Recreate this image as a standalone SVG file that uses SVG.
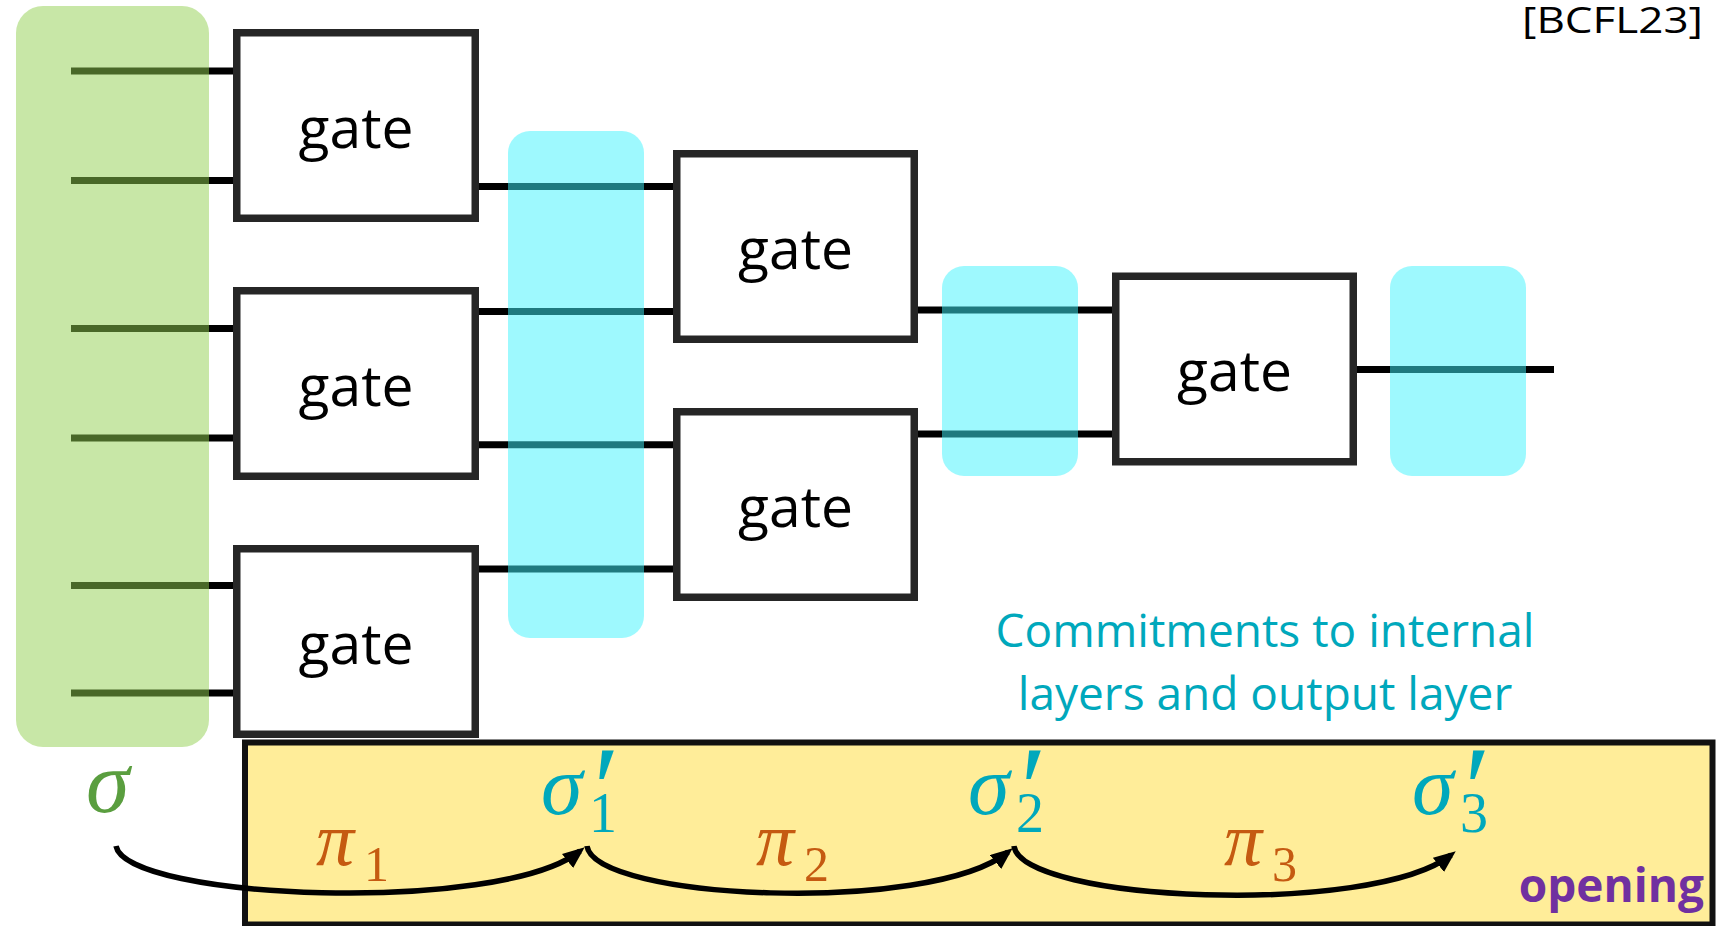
<svg xmlns="http://www.w3.org/2000/svg" width="1716" height="926" viewBox="0 0 1716 926">
<defs>
<style>
.gate rect{fill:#fff;stroke:#262626;stroke-width:7.5}
.gate text{font-family:"Open Sans","Noto Sans",sans-serif;font-size:57px;fill:#000;text-anchor:middle}
.wire{stroke:#000;stroke-width:7;fill:none}
.cyan{fill:#3EF4FE;fill-opacity:0.5}
.green{fill:#92D050;fill-opacity:0.5}
.lbl{font-family:"Open Sans","Noto Sans",sans-serif;font-size:46px;fill:#00A8BC;text-anchor:middle}
.m{font-family:"Liberation Serif","DejaVu Serif",serif;font-style:italic}
.sub{font-family:"Liberation Serif","DejaVu Serif",serif;font-style:normal}
.pr{font-family:"Liberation Serif","DejaVu Serif",serif;font-style:italic;font-size:120px}
.sg{fill:#5A9E3F}
.sc{fill:#00A8BC}
.po{fill:#C55A11}
.arc{stroke:#000;stroke-width:5.5;fill:none;marker-end:url(#ah)}
</style>
<marker id="ah" markerUnits="userSpaceOnUse" markerWidth="24" markerHeight="20" refX="16" refY="9" orient="auto">
<path d="M0,0 L22,9 L0,18 Z" fill="#000"/>
</marker>
</defs>

<rect x="0" y="0" width="1716" height="926" fill="#fff"/>

<g id="opening-box">
<rect x="245" y="742.5" width="1467.5" height="182" fill="#FFED99" stroke="#111" stroke-width="6"/>
<text x="1704" y="902" font-family="'Open Sans','Noto Sans',sans-serif" font-weight="bold" font-size="46" fill="#7030A0" text-anchor="end">opening</text>
</g>

<g id="connectors">
<line class="wire" x1="71" y1="71" x2="236" y2="71"/>
<line class="wire" x1="71" y1="180.5" x2="236" y2="180.5"/>
<line class="wire" x1="71" y1="328.5" x2="236" y2="328.5"/>
<line class="wire" x1="71" y1="438" x2="236" y2="438"/>
<line class="wire" x1="71" y1="585.5" x2="236" y2="585.5"/>
<line class="wire" x1="71" y1="693" x2="236" y2="693"/>
<line class="wire" x1="476" y1="186.6" x2="676" y2="186.6"/>
<line class="wire" x1="476" y1="311.5" x2="676" y2="311.5"/>
<line class="wire" x1="476" y1="444.8" x2="676" y2="444.8"/>
<line class="wire" x1="476" y1="569" x2="676" y2="569"/>
<line class="wire" x1="915" y1="310" x2="1115" y2="310"/>
<line class="wire" x1="915" y1="434" x2="1115" y2="434"/>
<line class="wire" x1="1354" y1="369.5" x2="1554" y2="369.5"/>
<path class="arc" d="M116,846 C126,900 500,915 580,851"/>
<path class="arc" d="M587,846 C594,900 930,915 1008,852"/>
<path class="arc" d="M1014,846 C1021,902 1372,917 1451,855"/>
</g>

<g id="input-commit">
<rect class="green" x="16" y="6" width="193" height="741" rx="27"/>
</g>
<g id="commit-1"><rect class="cyan" x="508" y="131" width="136" height="507" rx="22"/></g>
<g id="commit-2"><rect class="cyan" x="942" y="266" width="136" height="210" rx="22"/></g>
<g id="commit-3"><rect class="cyan" x="1390" y="266" width="136" height="210" rx="22"/></g>

<g id="gate1" class="gate"><rect x="236.75" y="32.75" width="238.5" height="185.5"/><text x="356" y="147.5">gate</text></g>
<g id="gate2" class="gate"><rect x="236.75" y="290.75" width="238.5" height="185.5"/><text x="356" y="405.5">gate</text></g>
<g id="gate3" class="gate"><rect x="236.75" y="548.75" width="238.5" height="185.5"/><text x="356" y="663.5">gate</text></g>
<g id="gate4" class="gate"><rect x="676.75" y="153.75" width="237.5" height="185.5"/><text x="795.5" y="268.5">gate</text></g>
<g id="gate5" class="gate"><rect x="676.75" y="411.75" width="237.5" height="185.5"/><text x="795.5" y="526.5">gate</text></g>
<g id="gate6" class="gate"><rect x="1115.75" y="276.25" width="237.5" height="185.5"/><text x="1234.5" y="391">gate</text></g>

<g id="caption">
<text class="lbl" x="1265" y="647">Commitments to internal</text>
<text class="lbl" x="1265" y="710">layers and output layer</text>
</g>

<g id="cite">
<text x="1703" y="33" font-family="'Open Sans','Noto Sans',sans-serif" font-size="36" fill="#000" text-anchor="end" textLength="181" lengthAdjust="spacingAndGlyphs">[BCFL23]</text>
</g>

<g id="sigma"><text class="m sg" x="86" y="812" font-size="88">σ</text></g>
<g id="sigma1"><text class="m sc" x="541" y="814" font-size="84">σ</text><text class="pr sc" x="586" y="830">′</text><text class="sub sc" x="589" y="832" font-size="56">1</text></g>
<g id="sigma2"><text class="m sc" x="968" y="814" font-size="84">σ</text><text class="pr sc" x="1013" y="830">′</text><text class="sub sc" x="1016" y="832" font-size="56">2</text></g>
<g id="sigma3"><text class="m sc" x="1412" y="814" font-size="84">σ</text><text class="pr sc" x="1457" y="830">′</text><text class="sub sc" x="1460" y="832" font-size="56">3</text></g>
<g id="pi1"><text class="m po" x="316" y="865" font-size="76">π</text><text class="sub po" x="364" y="881" font-size="50">1</text></g>
<g id="pi2"><text class="m po" x="756" y="865" font-size="76">π</text><text class="sub po" x="804" y="881" font-size="50">2</text></g>
<g id="pi3"><text class="m po" x="1224" y="865" font-size="76">π</text><text class="sub po" x="1272" y="881" font-size="50">3</text></g>
</svg>
